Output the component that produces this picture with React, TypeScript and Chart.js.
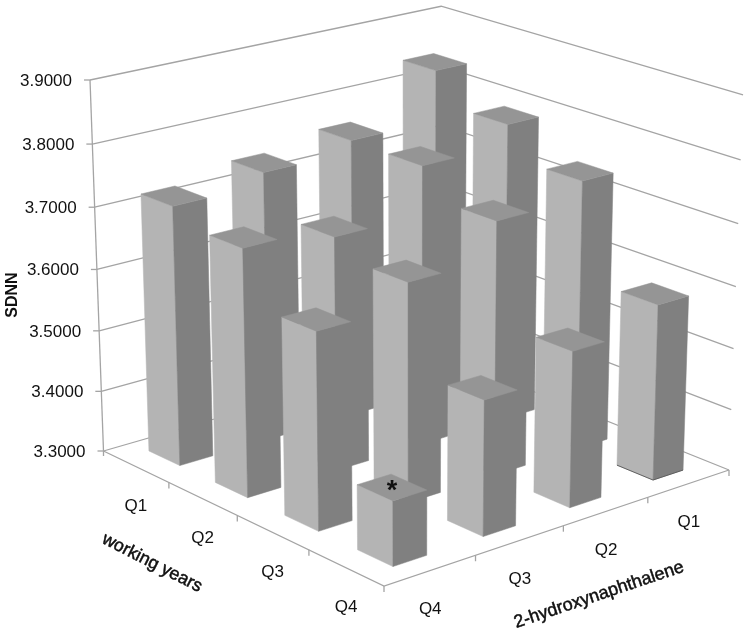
import React, { useEffect, useRef } from "react";
import { Chart, registerables } from "chart.js";

Chart.register(...registerables);

const workingYears = ["Q1", "Q2", "Q3", "Q4"];
const hydroxyQ1 = [3.84, 3.79, 3.739, 3.585];
const hydroxyQ2 = [3.758, 3.757, 3.711, 3.551];
const hydroxyQ3 = [3.74, 3.679, 3.652, 3.516];
const hydroxyQ4 = [3.721, 3.698, 3.615, 3.403];
const hydroxyLabels = ["Q1", "Q2", "Q3", "Q4"];
const hydroxySeries = [hydroxyQ1, hydroxyQ2, hydroxyQ3, hydroxyQ4];
const yTitle = "SDNN";
const workingTitle = "working years";
const hydroxyTitle = "2-hydroxynaphthalene";
const starred = { working: 3, hydroxy: 3, mark: "*" };

const FONT = '"Liberation Sans", Arial, sans-serif';
const GRID = "#a4a4a4";
const FACE_LEFT = "#b4b4b4";
const FACE_RIGHT = "#808080";
const FACE_TOP = "#959595";
const BAR_A = 0.47;
const BAR_B = 0.37;

// box of the 3D plot: floor corners, and the vanishing point of the verticals
const LEFT = [103.5, 451];
const FRONT = [384, 586];
const RIGHT = [729, 470];
const BACK = [440, 354];
const VERT = [412, 8936];
const WALL_TOP_Y = 80;

function makeProjector() {
  const [x0, y0] = LEFT, [x1, y1] = FRONT, [x2, y2] = RIGHT, [x3, y3] = BACK;
  const dx1 = x1 - x2, dx2 = x3 - x2, sx = x0 - x1 + x2 - x3;
  const dy1 = y1 - y2, dy2 = y3 - y2, sy = y0 - y1 + y2 - y3;
  const den = dx1 * dy2 - dx2 * dy1;
  const g = (sx * dy2 - dx2 * sy) / den;
  const h = (dx1 * sy - sx * dy1) / den;
  const A = x1 - x0 + g * x1, B = x3 - x0 + h * x3;
  const D = y1 - y0 + g * y1, E = y3 - y0 + h * y3;
  const s = (y0 - WALL_TOP_Y) / (WALL_TOP_Y - VERT[1]);
  return (a: number, b: number, t: number) => {
    const w = g * a + h * b + 1 + t * s;
    return [
      (A * a + B * b + x0 + t * s * VERT[0]) / w,
      (D * a + E * b + y0 + t * s * VERT[1]) / w,
    ];
  };
}

const box3d = {
  id: "box3d",
  beforeDatasetsDraw(chart: any) {
    const { ctx, scales } = chart;
    const yScale = scales.y;
    const P = makeProjector();
    const frac = (v: number) =>
      (yScale.bottom - yScale.getPixelForValue(v)) / (yScale.bottom - yScale.top);

    const line = (pts: number[][], color = GRID, width = 1.3) => {
      ctx.beginPath();
      pts.forEach((p, i) => (i ? ctx.lineTo(p[0], p[1]) : ctx.moveTo(p[0], p[1])));
      ctx.strokeStyle = color;
      ctx.lineWidth = width;
      ctx.stroke();
    };
    const poly = (pts: number[][], color: string) => {
      ctx.beginPath();
      pts.forEach((p, i) => (i ? ctx.lineTo(p[0], p[1]) : ctx.moveTo(p[0], p[1])));
      ctx.closePath();
      ctx.fillStyle = color;
      ctx.fill();
      ctx.strokeStyle = color;
      ctx.lineWidth = 0.5;
      ctx.stroke();
    };
    const text = (
      s: string, x: number, y: number, font: string,
      angle = 0, align = "center", heavy = 0,
    ) => {
      ctx.save();
      ctx.translate(x, y);
      ctx.rotate(angle);
      ctx.font = font;
      ctx.fillStyle = "#111111";
      ctx.textAlign = align;
      ctx.textBaseline = "middle";
      ctx.fillText(s, 0, 0);
      if (heavy) {
        ctx.strokeStyle = "#111111";
        ctx.lineWidth = heavy;
        ctx.strokeText(s, 0, 0);
      }
      ctx.restore();
    };

    ctx.save();
    // walls and value ticks
    yScale.ticks.forEach((tick: any) => {
      const t = frac(tick.value);
      const p = P(0, 0, t);
      line([P(0, 0, t), P(0, 1, t), P(1, 1, t)]);
      line([[p[0] - 6, p[1]], p]);
      text(tick.label, p[0] - 18, p[1] + 1, `17px ${FONT}`, 0, "right");
    });
    line([P(0, 0, 0), P(0, 0, 1)]);
    // floor edges with their ticks
    line([P(0, 0, 0), P(1, 0, 0), P(1, 1, 0)]);
    const lp = P(0, 0, 0);
    line([lp, [lp[0], lp[1] + 5]]);
    for (let i = 1; i <= 4; i++) {
      const p = P(i / 4, 0, 0);
      line([p, [p[0], p[1] + 6]]);
      const q = P(1, i / 4, 0);
      line([q, [q[0], q[1] + 6]]);
    }
    workingYears.forEach((lab, i) => {
      const p = P((i + 0.5) / 4, 0, 0);
      text(lab, p[0], p[1] + 40, `17px ${FONT}`);
    });
    hydroxyLabels.forEach((lab, j) => {
      const p = P(1, (3 - j + 0.5) / 4, 0);
      text(lab, p[0], p[1] + 39, `17px ${FONT}`);
    });
    text(yTitle, 13, 295, `bold 16px ${FONT}`, -Math.PI / 2);
    text(workingTitle, 152, 563, `17.8px ${FONT}`, (27 * Math.PI) / 180, "center", 0.5);
    text(hydroxyTitle, 599, 595, `18px ${FONT}`, (-18.6 * Math.PI) / 180, "center", 0.5);

    // bars, farthest first
    chart.data.datasets.forEach((ds: any, j: number) => {
      const bCell = 3 - j;
      ds.data.forEach((v: number, i: number) => {
        const t = frac(v);
        const a0 = (i + 0.5 - BAR_A / 2) / 4, a1 = (i + 0.5 + BAR_A / 2) / 4;
        const b0 = (bCell + 0.5 - BAR_B / 2) / 4, b1 = (bCell + 0.5 + BAR_B / 2) / 4;
        poly([P(a0, b0, 0), P(a1, b0, 0), P(a1, b0, t), P(a0, b0, t)], FACE_LEFT);
        poly([P(a1, b0, 0), P(a1, b1, 0), P(a1, b1, t), P(a1, b0, t)], FACE_RIGHT);
        poly([P(a0, b0, t), P(a1, b0, t), P(a1, b1, t), P(a0, b1, t)], FACE_TOP);
        if (i === 3 && j === 0) {
          line([P(a0, b0, 0), P(a1, b0, 0), P(a1, b1, 0)], "#555555", 0.9);
        }
        if (i === starred.working && j === starred.hydroxy) {
          const c = P((a0 + a1) / 2, (b0 + b1) / 2, t);
          text(starred.mark, c[0], c[1] + 4, `bold 27px ${FONT}`);
        }
      });
    });
    ctx.restore();
    return false;
  },
};

export default function App() {
  const ref = useRef<HTMLCanvasElement>(null);
  useEffect(() => {
    const chart = new Chart(ref.current as HTMLCanvasElement, {
      type: "bar",
      data: {
        labels: workingYears,
        datasets: hydroxySeries.map((data, j) => ({ label: hydroxyLabels[j], data })),
      },
      options: {
        animation: false,
        responsive: false,
        layout: { padding: { left: 90, right: 21, top: 80, bottom: 180 } },
        plugins: { legend: { display: false }, tooltip: { enabled: false } },
        scales: {
          x: { display: false },
          y: {
            min: 3.3,
            max: 3.9,
            grid: { display: false },
            border: { display: false },
            ticks: {
              display: false,
              stepSize: 0.1,
              callback: (v: any) => Number(v).toFixed(4),
            },
          },
        },
      },
      plugins: [box3d],
    } as any);
    return () => chart.destroy();
  }, []);
  return (
    <div style={{ position: "absolute", left: 0, top: 0, width: 750, height: 631 }}>
      <canvas ref={ref} width={750} height={631} style={{ display: "block" }} />
    </div>
  );
}
